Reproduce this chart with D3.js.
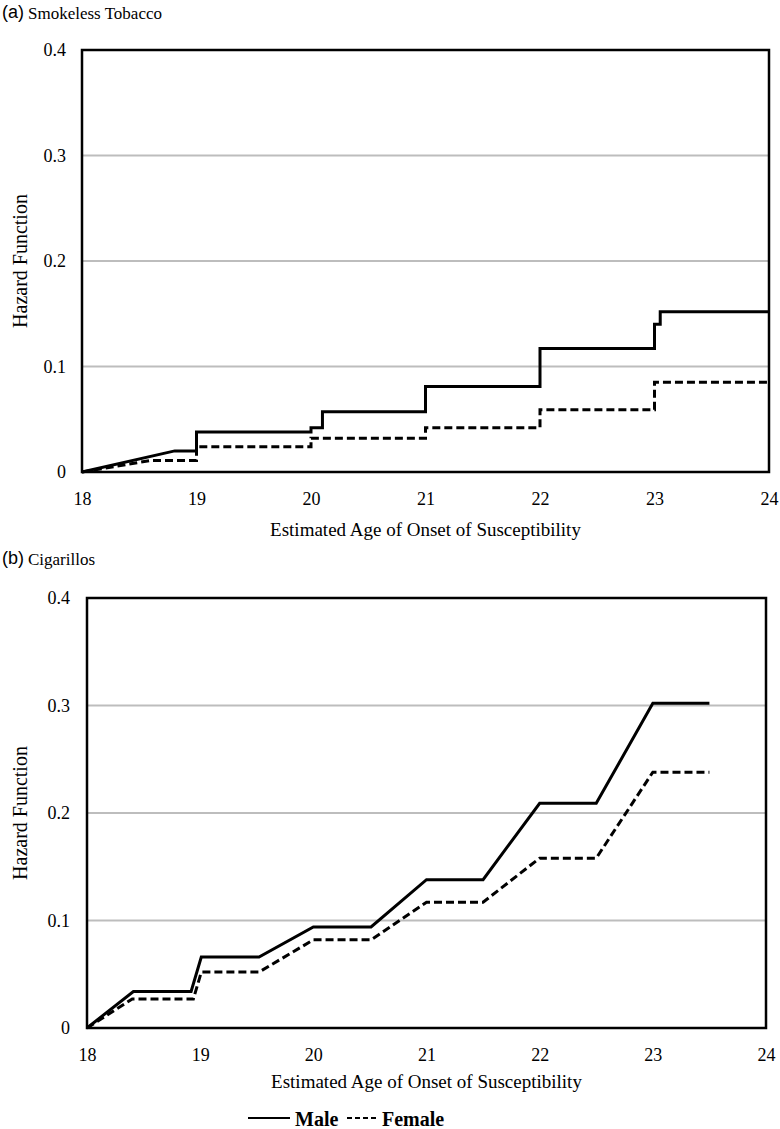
<!DOCTYPE html>
<html>
<head>
<meta charset="utf-8">
<script src="https://cdn.jsdelivr.net/npm/d3@7"></script>
<style>
  html, body { margin: 0; padding: 0; background: #fff; }
  svg { display: block; }
</style>
</head>
<body>
<svg id="chart" width="780" height="1129"></svg>
<script>
// ---- data ----
const xTicks = [18, 19, 20, 21, 22, 23, 24];
const yTicks = [0, 0.1, 0.2, 0.3, 0.4];
const yTickLabels = ["0", "0.1", "0.2", "0.3", "0.4"];
const xTitle = "Estimated Age of Onset of Susceptibility";
const yTitle = "Hazard Function";

// Panel (a) Smokeless Tobacco
const smokelessMaleAge = [18, 18.81, 19.0, 19.0, 20.0, 20.0, 20.1, 20.1, 21.0, 21.0, 22.0, 22.0, 23.0, 23.0, 23.05, 23.05, 24.0];
const smokelessMaleHaz = [0, 0.020, 0.020, 0.038, 0.038, 0.042, 0.042, 0.057, 0.057, 0.081, 0.081, 0.117, 0.117, 0.140, 0.140, 0.152, 0.152];
const smokelessFemaleAge = [18, 18.6, 19.0, 19.0, 20.0, 20.0, 21.0, 21.0, 22.0, 22.0, 23.0, 23.0, 24.0];
const smokelessFemaleHaz = [0, 0.011, 0.011, 0.024, 0.024, 0.032, 0.032, 0.042, 0.042, 0.059, 0.059, 0.085, 0.085];

// Panel (b) Cigarillos
const cigarilloMaleAge = [18, 18.41, 18.92, 19.01, 19.52, 20.0, 20.51, 21.0, 21.5, 22.0, 22.5, 23.0, 23.5];
const cigarilloMaleHaz = [0, 0.034, 0.034, 0.066, 0.066, 0.094, 0.094, 0.138, 0.138, 0.209, 0.209, 0.302, 0.302];
const cigarilloFemaleAge = [18, 18.40, 18.94, 19.01, 19.52, 20.0, 20.51, 21.0, 21.5, 22.0, 22.5, 23.0, 23.5];
const cigarilloFemaleHaz = [0, 0.027, 0.027, 0.052, 0.052, 0.082, 0.082, 0.117, 0.117, 0.158, 0.158, 0.238, 0.238];

const legendLabels = ["Male", "Female"];

// ---- drawing ----
const svg = d3.select("#chart");
const serif = "'Liberation Serif', 'Times New Roman', serif";
const sans = "'Liberation Sans', Arial, sans-serif";

function zip(a, b) { return a.map((v, i) => [v, b[i]]); }

function drawPanel(cfg) {
  const x = d3.scaleLinear().domain([18, 24]).range([cfg.left, cfg.right]);
  const y = d3.scaleLinear().domain([0, 0.4]).range([cfg.bottom, cfg.top]);
  const g = svg.append("g");

  // gridlines
  g.append("g").selectAll("line").data(yTicks.filter(d => d > 0 && d < 0.4)).join("line")
    .attr("x1", cfg.left).attr("x2", cfg.right)
    .attr("y1", d => y(d)).attr("y2", d => y(d))
    .attr("stroke", "#bdbdbd").attr("stroke-width", 2);

  // y axis labels
  const yAxis = d3.axisLeft(y).tickValues(yTicks).tickSize(0).tickPadding(cfg.yPad)
    .tickFormat((d, i) => yTickLabels[i]);
  const ya = g.append("g").attr("transform", `translate(${cfg.left},0)`).call(yAxis)
    .attr("font-family", serif).attr("font-size", 18);
  ya.select(".domain").remove();
  ya.selectAll("text").style("font-family", serif).style("font-size", "18px").attr("fill", "#000");

  // x axis labels
  const xAxis = d3.axisBottom(x).tickValues(xTicks).tickSize(0).tickPadding(cfg.xPad)
    .tickFormat(d3.format("d"));
  const xa = g.append("g").attr("transform", `translate(0,${cfg.bottom})`).call(xAxis)
    .attr("font-family", serif).attr("font-size", 18);
  xa.select(".domain").remove();
  xa.selectAll("text").style("font-family", serif).style("font-size", "18px").attr("fill", "#000");

  // frame
  g.append("rect")
    .attr("x", cfg.left).attr("y", cfg.top)
    .attr("width", cfg.right - cfg.left).attr("height", cfg.bottom - cfg.top)
    .attr("fill", "none").attr("stroke", "#000").attr("stroke-width", 2.5);

  const line = d3.line().x(d => x(d[0])).y(d => y(d[1]));
  g.append("path").datum(zip(cfg.femaleAge, cfg.femaleHaz))
    .attr("d", line).attr("fill", "none").attr("stroke", "#000")
    .attr("stroke-width", 3).attr("stroke-dasharray", "8,4");
  g.append("path").datum(zip(cfg.maleAge, cfg.maleHaz))
    .attr("d", line).attr("fill", "none").attr("stroke", "#000")
    .attr("stroke-width", 3).attr("stroke-linejoin", "miter");

  // panel label
  g.append("text").attr("x", 2).attr("y", cfg.labelY)
    .attr("font-family", sans).attr("font-size", 18).text(cfg.letter);
  g.append("text").attr("x", 28).attr("y", cfg.labelY + 1)
    .attr("font-family", serif).attr("font-size", 17).text(cfg.title);

  // axis titles
  g.append("text").attr("x", (cfg.left + cfg.right) / 2).attr("y", cfg.xTitleY)
    .attr("text-anchor", "middle").attr("font-family", serif).attr("font-size", 19)
    .text(xTitle);
  g.append("text")
    .attr("transform", `translate(${cfg.yTitleX},${(cfg.top + cfg.bottom) / 2}) rotate(-90)`)
    .attr("text-anchor", "middle").attr("font-family", serif).attr("font-size", 20)
    .text(yTitle);
  return x;
}

drawPanel({
  left: 82, right: 769, top: 50, bottom: 472,
  yPad: 16, xPad: 20, labelY: 18, xTitleY: 536, yTitleX: 27,
  letter: "(a)", title: "Smokeless Tobacco",
  maleAge: smokelessMaleAge, maleHaz: smokelessMaleHaz,
  femaleAge: smokelessFemaleAge, femaleHaz: smokelessFemaleHaz
});

drawPanel({
  left: 87, right: 766, top: 598, bottom: 1028,
  yPad: 17, xPad: 20, labelY: 564, xTitleY: 1088, yTitleX: 27,
  letter: "(b)", title: "Cigarillos",
  maleAge: cigarilloMaleAge, maleHaz: cigarilloMaleHaz,
  femaleAge: cigarilloFemaleAge, femaleHaz: cigarilloFemaleHaz
});

// legend
const leg = svg.append("g");
const legItems = [
  { label: legendLabels[0], x1: 248, x2: 290, tx: 295, dash: null },
  { label: legendLabels[1], x1: 347, x2: 378, tx: 382, dash: "5,3" }
];
legItems.forEach(it => {
  leg.append("line").attr("x1", it.x1).attr("x2", it.x2).attr("y1", 1118).attr("y2", 1118)
    .attr("stroke", "#000").attr("stroke-width", 2)
    .attr("stroke-dasharray", it.dash);
  leg.append("text").attr("x", it.tx).attr("y", 1126)
    .attr("font-family", serif).attr("font-size", 20).attr("font-weight", "bold")
    .text(it.label);
});
</script>
</body>
</html>
